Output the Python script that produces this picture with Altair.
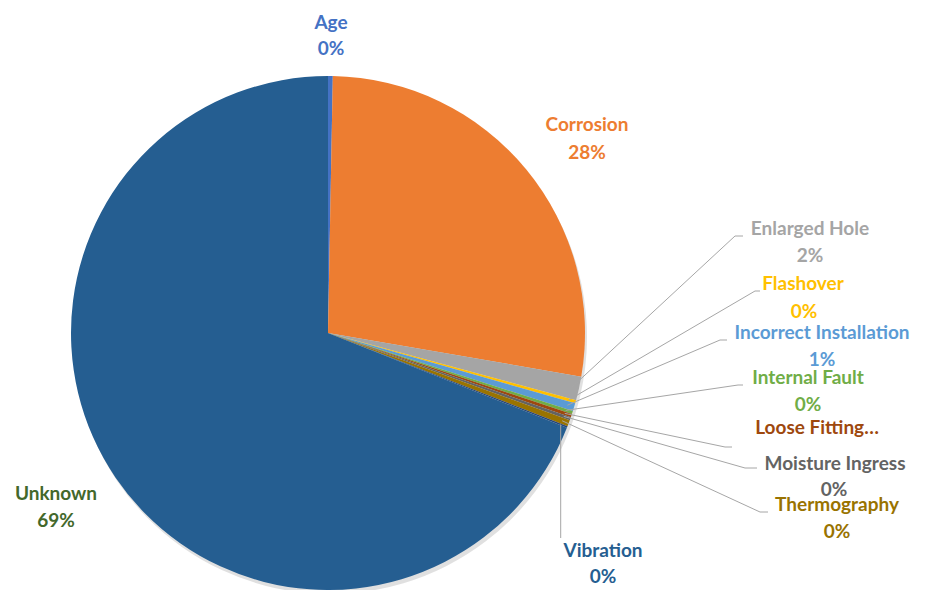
import math
import altair as alt
import pandas as pd

# ---- data ----
categories = ["Age", "Corrosion", "Enlarged Hole", "Flashover", "Incorrect Installation",
              "Internal Fault", "Loose Fitting\u2026", "Moisture Ingress", "Thermography",
              "Vibration", "Unknown"]
values = [0.3, 27.5, 1.5, 0.2, 0.5, 0.2, 0.2, 0.2, 0.4, 0.1, 69.2]
pct_labels = ["0%", "28%", "2%", "0%", "1%", "0%", "", "0%", "0%", "0%", "69%"]

# ---- styles ----
slice_colors = ["#4472C4", "#ED7D31", "#A5A5A5", "#FFC000", "#5B9BD5", "#70AD47",
                "#9E480E", "#636363", "#997300", "#264478", "#255E91"]
label_colors = ["#4472C4", "#ED7D31", "#A5A5A5", "#FFC000", "#5B9BD5", "#70AD47",
                "#9E480E", "#636363", "#997300", "#255E91", "#43682B"]

# ---- layout (pixel positions in the view) ----
CX, CY, R = 320, 325, 257
name_xy = [(323, 15), (579, 117), (802, 221), (795, 276), (814, 325), (800, 370),
           (809, 420), (827, 456), (829, 497), (595, 543), (48, 486)]
pct_xy = [(323, 41), (579, 145), (802, 248), (796, 304), (814, 352), (800, 397),
          None, (826, 482), (829, 524), (595, 569), (48, 513)]
# leader lines: (elbow, end) for labelled small slices
leader = {
    "Enlarged Hole": [(727, 228), (735, 228)],
    "Flashover": [(747, 283), (752, 283)],
    "Incorrect Installation": [(712, 332), (719, 332)],
    "Internal Fault": [(730, 377), (735, 377)],
    "Loose Fitting\u2026": [(717, 439), (724, 439)],
    "Moisture Ingress": [(737, 460), (749, 460)],
    "Thermography": [(752, 504), (760, 504)],
}

total = sum(values)
df = pd.DataFrame({"category": categories, "value": values, "idx": range(len(values))})

# leader line points, starting at each slice's mid-angle near the rim
line_rows = []
cum = 0.0
for cat, v in zip(categories, values):
    mid = (cum + v / 2) / total * 2 * math.pi
    cum += v
    sx = CX + 250 * math.sin(mid)
    sy = CY - 250 * math.cos(mid)
    if cat in leader:
        pts = [(sx, sy)] + leader[cat]
    elif cat == "Vibration":
        pts = [(sx, sy), (sx, 530)]
    else:
        continue
    for i, (px, py) in enumerate(pts):
        line_rows.append({"category": cat, "seq": i, "x": px, "y": py})
lines_df = pd.DataFrame(line_rows)

text_rows = []
for cat, pct, nxy, pxy, col in zip(categories, pct_labels, name_xy, pct_xy, label_colors):
    text_rows.append({"t": cat, "x": nxy[0], "y": nxy[1], "color": col})
    if pxy is not None and pct:
        text_rows.append({"t": pct, "x": pxy[0], "y": pxy[1], "color": col})
text_df = pd.DataFrame(text_rows)

shadow = alt.Chart(df).mark_arc(radius=257, x=CX + 2, y=CY + 4, color="#000000",
                                opacity=0.12).encode(
    theta=alt.Theta("value:Q", stack=True),
    order=alt.Order("idx:Q"),
)

pie = alt.Chart(df).mark_arc(radius=R, x=CX, y=CY).encode(
    theta=alt.Theta("value:Q", stack=True),
    color=alt.Color("category:N", scale=alt.Scale(domain=categories, range=slice_colors), legend=None),
    order=alt.Order("idx:Q"),
)

lines = alt.Chart(lines_df).mark_line(color="#A6A6A6", strokeWidth=1).encode(
    x=alt.X("x:Q", scale=None, axis=None),
    y=alt.Y("y:Q", scale=None, axis=None),
    detail="category:N",
    order="seq:Q",
)

texts = alt.Chart(text_df).mark_text(font="Lato", fontSize=19, fontWeight="bold",
                                     align="center", baseline="middle").encode(
    x=alt.X("x:Q", scale=None, axis=None),
    y=alt.Y("y:Q", scale=None, axis=None),
    text="t:N",
    color=alt.Color("color:N", scale=None),
)

chart = alt.layer(shadow, pie, lines, texts).properties(
    width=905, height=582,
    autosize=alt.AutoSizeParams(type="none"),
    padding=0,
).configure_view(stroke=None)

chart.save("out.html", embed_options={"renderer": "svg", "actions": False})
